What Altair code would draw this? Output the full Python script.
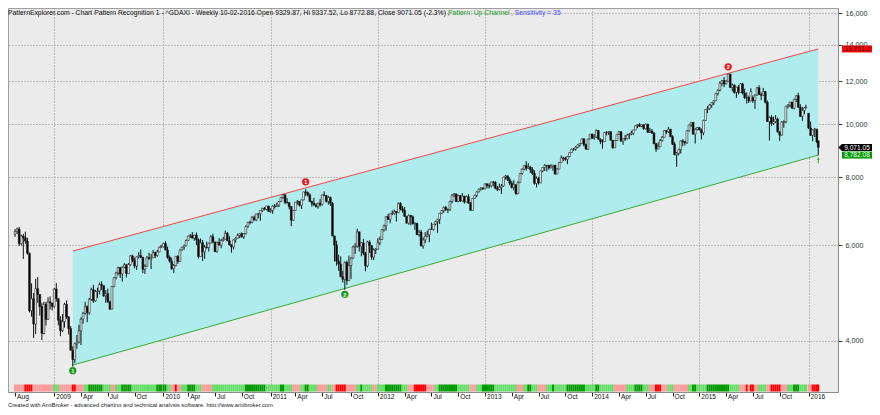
import altair as alt
import pandas as pd

# ---------------- data (weekly DAX bars) ----------------
FIRST_WEEK = "2008-08-22"
DATE_FIX = {"2010-01-01": "2009-12-31", "2016-01-01": "2015-12-30", "2016-02-12": "2016-02-10"}

opens = [
    6280, 6357, 6422, 6036, 6235, 6189, 6104, 5797, 4544, 4781, 4295, 4988, 4869, 4623, 4127, 4669, 4381, 4719, 4696,
    4629, 4984, 4783, 4367, 4179, 4338, 4668, 4427, 4215, 3844, 3695, 3953, 3981, 4176, 4385, 4496, 4624, 4507, 4770, 4970, 4738, 4928, 4941, 5077, 5052, 4839, 4884, 4718, 4576, 5034, 5229, 5332, 5460, 5309, 5462, 5520, 5318, 5523, 5731, 5627, 5491, 5711, 5743, 5695, 5415, 5487, 5684, 5663, 5686, 5817, 5743, 5831, 5946,
    5957, 6037, 5875, 5696, 5608, 5434, 5500, 5722, 5598, 5877, 5945, 5982, 6120, 6235, 6250, 6180, 6259, 6136, 5716, 6056, 5829, 5947, 5938, 6049, 6216, 6071, 5835, 6066, 5999, 6117, 6148, 6303, 6111, 6005, 5951, 6135, 6175, 6249, 6299, 6211, 6294, 6496, 6605, 6601, 6750, 6676, 6842, 6849, 6947, 7006, 6982, 7077,
    6914, 6947, 7076, 7062, 7102, 7216, 7339, 7426, 7185, 7178, 7064, 6664, 6947, 7197, 7217, 7100, 7266, 7514, 7492, 7418, 7219, 7163, 7109, 7070, 7164, 7120, 7419, 7400, 7220, 7344, 7159, 6236, 5998, 5603, 5538, 5247, 5190, 5574, 5164, 5502, 5676, 5950, 5970, 6346, 5966, 6057, 5800, 5493, 6080, 5987, 5702, 5878,
    5898, 6057, 6143, 6404, 6512, 6766, 6692, 6849, 6864, 6922, 6880, 7157, 6996, 6947, 6775, 6583, 6801, 6762, 6561, 6580, 6271, 6339, 5978, 6130, 6229, 6263, 6416, 6410, 6557, 6630, 6690, 6865, 6945, 7041, 6971, 6970, 7214, 7412, 7451, 7216, 7398, 7233, 7380, 7203, 7363, 7163, 6950, 7309, 7405, 7518, 7597, 7636,
    7612, 7776, 7715, 7702, 7833, 7833, 7633, 7593, 7661, 7708, 8004, 8042, 7913, 7795, 7659, 7744, 7459, 7814, 8122, 8278, 8399, 8305, 8349, 8254, 8127, 7789, 7959, 7806, 8212, 8331, 8403, 8410, 8323, 8372, 8416, 8104, 8276, 8510, 8675, 8661, 8623, 8725, 8870, 9001, 9009, 9079, 9168, 9225, 9406, 9172, 9006, 9400,
    9589, 9435, 9473, 9742, 9392, 9306, 9290, 9663, 9657, 9692, 9350, 9056, 9343, 9588, 9695, 9315, 9409, 9401, 9556, 9581, 9630, 9768, 9943, 9987, 9912, 9987, 9816, 10009, 9666, 9720, 9644, 9210, 9010, 9092, 9339, 9470, 9747, 9691, 9799, 9490, 9195, 8788, 8850, 8988, 9326, 9291, 9252, 9732, 9980, 10087, 9594, 9787,
    9865, 9765, 9648, 10167, 10649, 10694, 10846, 10963, 11050, 11402, 11551, 11901, 12040, 11868, 12002, 12375, 11689, 11811, 11454, 11709, 11447, 11865, 11414, 11198, 11197, 11040, 11200, 11058, 11315, 11673, 11347, 11309, 11490, 10985, 10124, 10298, 10038, 10123, 10229, 9688, 9553, 10096, 10104, 10794, 10850, 10988, 10708, 11119, 11293, 10752, 10340, 10608, 10728,
    10480, 9849, 9545, 9765, 9798, 9329.87,
]
highs = [
    6420, 6460, 6480, 6270, 6290, 6350, 6190, 5810, 5100, 4900, 5200, 5240, 4870, 4700, 4720, 4720, 4810, 4830, 4700,
    5000, 5110, 4790, 4440, 4480, 4700, 4750, 4440, 4260, 3910, 3970, 4100, 4280, 4420, 4520, 4720, 4650, 4800, 5010, 5070, 4960, 5010, 5120, 5150, 5060, 4960, 4990, 4740, 5050, 5240, 5360, 5470, 5460, 5480, 5560, 5540, 5560, 5750, 5760, 5690, 5720, 5830, 5890, 5710, 5530, 5730, 5810, 5780, 5880, 5830, 5880, 5960, 6010,
    6060, 6100, 5960, 5740, 5690, 5540, 5730, 5750, 5890, 5960, 6010, 6140, 6240, 6290, 6340, 6270, 6330, 6170, 6170, 6130, 6000, 6090, 6060, 6260, 6300, 6100, 6090, 6180, 6160, 6210, 6380, 6340, 6230, 6020, 6140, 6210, 6300, 6310, 6330, 6310, 6520, 6620, 6650, 6780, 6800, 6850, 6870, 6950, 7030, 7050, 7080, 7090,
    7010, 7100, 7140, 7180, 7230, 7350, 7440, 7430, 7320, 7200, 7070, 6960, 7200, 7260, 7230, 7270, 7520, 7600, 7530, 7470, 7240, 7330, 7160, 7180, 7290, 7430, 7530, 7400, 7390, 7360, 7200, 6240, 6110, 5760, 5720, 5380, 5600, 5620, 5740, 5700, 5990, 6050, 6430, 6350, 6070, 6160, 5830, 6110, 6120, 5990, 5920, 5920,
    6180, 6220, 6420, 6540, 6780, 6850, 6860, 6950, 6970, 6930, 7190, 7190, 7080, 7050, 6790, 6830, 6820, 6800, 6610, 6590, 6390, 6400, 6200, 6340, 6380, 6430, 6600, 6560, 6650, 6700, 6870, 6960, 7060, 7080, 7000, 7240, 7440, 7480, 7460, 7430, 7410, 7480, 7390, 7400, 7440, 7200, 7320, 7420, 7530, 7620, 7670, 7660,
    7790, 7780, 7790, 7840, 7870, 7860, 7710, 7780, 7770, 8010, 8070, 8050, 7990, 7870, 7900, 7760, 7860, 8130, 8300, 8410, 8560, 8490, 8390, 8340, 8230, 8020, 8010, 8220, 8340, 8450, 8420, 8420, 8450, 8420, 8420, 8300, 8530, 8770, 8720, 8720, 8750, 8880, 9020, 9050, 9120, 9180, 9240, 9420, 9410, 9220, 9410, 9600,
    9620, 9600, 9790, 9760, 9420, 9390, 9670, 9720, 9720, 9710, 9350, 9360, 9600, 9720, 9700, 9420, 9560, 9610, 9640, 9740, 9770, 9960, 10010, 10050, 10000, 10000, 10030, 10020, 9850, 9810, 9680, 9250, 9260, 9400, 9520, 9760, 9760, 9890, 9800, 9550, 9290, 8900, 9020, 9340, 9390, 9330, 9750, 9990, 10090, 10090, 9840, 9890,
    9890, 9830, 10200, 10660, 10810, 10900, 10970, 11070, 11410, 11600, 12000, 12070, 12220, 12060, 12390, 12380, 11880, 11840, 11720, 11800, 11900, 11920, 11630, 11450, 11300, 11650, 11300, 11350, 11720, 11800, 11450, 11670, 11520, 11060, 10350, 10400, 10330, 10400, 10290, 9700, 10140, 10170, 10820, 10900, 11000, 10990, 11140, 11310, 11430, 10890, 10760, 10750, 10870,
    10490, 10120, 9790, 9850, 9810, 9337.52,
]
lows = [
    6215, 6290, 5980, 5990, 5660, 6030, 5760, 4510, 4430, 4050, 4120, 4700, 4450, 4014, 4110, 4270, 4370, 4570, 4550,
    4600, 4720, 4270, 4080, 4150, 4230, 4390, 4110, 3840, 3588, 3640, 3870, 3960, 3930, 4300, 4470, 4330, 4470, 4740, 4700, 4720, 4800, 4870, 4960, 4820, 4700, 4700, 4560, 4570, 5020, 5190, 5280, 5220, 5140, 5440, 5230, 5310, 5500, 5580, 5440, 5400, 5670, 5680, 5330, 5310, 5480, 5640, 5420, 5680, 5680, 5710, 5820, 5930,
    5940, 5870, 5660, 5570, 5400, 5330, 5480, 5540, 5590, 5860, 5880, 5970, 6100, 6180, 6170, 6110, 6000, 5670, 5710, 5610, 5660, 5910, 5840, 6040, 6060, 5830, 5810, 5990, 5920, 6090, 6140, 6100, 5990, 5810, 5890, 6060, 6170, 6180, 6190, 6160, 6280, 6460, 6550, 6580, 6650, 6640, 6720, 6650, 6900, 6950, 6950, 6910,
    6880, 6850, 7000, 7060, 7050, 7200, 7300, 7130, 7150, 6980, 6500, 6650, 6940, 7120, 7060, 6990, 7250, 7380, 7370, 7200, 7060, 7090, 7030, 7000, 7060, 7090, 7390, 7180, 7120, 7080, 6230, 5600, 5500, 5380, 5240, 5120, 4966, 5070, 5160, 5200, 5660, 5780, 5930, 5840, 5720, 5750, 5370, 5460, 5800, 5640, 5630, 5780,
    5890, 6000, 6130, 6350, 6380, 6670, 6580, 6810, 6820, 6630, 6870, 6950, 6880, 6760, 6580, 6540, 6520, 6550, 6400, 6260, 6220, 5970, 5910, 6050, 6200, 6070, 6400, 6380, 6520, 6320, 6560, 6840, 6880, 6930, 6870, 6930, 7160, 7350, 7200, 7190, 7200, 7220, 7150, 7190, 7150, 6950, 6950, 7300, 7350, 7500, 7560, 7580,
    7600, 7630, 7620, 7660, 7690, 7600, 7540, 7560, 7450, 7680, 7920, 7870, 7730, 7620, 7560, 7420, 7440, 7810, 8080, 8240, 8220, 8280, 8140, 8070, 7750, 7660, 7750, 7800, 8170, 8210, 8190, 8250, 8300, 8220, 8080, 8100, 8270, 8500, 8560, 8570, 8450, 8700, 8860, 8940, 8950, 9040, 9100, 9220, 9110, 8980, 8970, 9390,
    9400, 9370, 9440, 9380, 9200, 9020, 9280, 9540, 9560, 9340, 9020, 9050, 9330, 9560, 9310, 9170, 9320, 9390, 9390, 9550, 9570, 9760, 9840, 9900, 9880, 9780, 9790, 9650, 9640, 9600, 9200, 8900, 8990, 9090, 9300, 9460, 9600, 9640, 9480, 9160, 8780, 8355, 8770, 8840, 9120, 9150, 9210, 9700, 9900, 9580, 9220, 9750,
    9760, 9380, 9550, 10150, 10490, 10640, 10730, 10850, 11040, 11300, 11500, 11760, 11700, 11840, 11990, 11680, 11500, 11380, 11190, 11360, 11440, 11350, 11130, 10920, 10950, 11030, 10950, 10680, 11300, 11330, 11080, 11300, 10930, 10110, 9338, 9940, 9980, 10060, 9660, 9330, 9540, 9860, 10050, 10700, 10750, 10680, 10650, 11000, 10730, 10320, 10150, 10450, 10700,
    9810, 9520, 9310, 9480, 9240, 8772.88,
]
closes = [
    6357, 6422, 6036, 6235, 6189, 6104, 5797, 4544, 4781, 4295, 4988, 4869, 4623, 4127, 4669, 4381, 4719, 4696, 4629,
    4984, 4783, 4367, 4179, 4338, 4668, 4427, 4215, 3844, 3695, 3953, 3981, 4176, 4385, 4496, 4624, 4507, 4770, 4970, 4738, 4928, 4941, 5077, 5052, 4839, 4884, 4718, 4576, 5034, 5229, 5332, 5460, 5309, 5462, 5520, 5318, 5523, 5731, 5627, 5491, 5711, 5743, 5695, 5415, 5487, 5684, 5663, 5686, 5817, 5743, 5831, 5946, 5957,
    6037, 5875, 5696, 5608, 5434, 5500, 5722, 5598, 5877, 5945, 5982, 6120, 6235, 6250, 6180, 6259, 6136, 5716, 6056, 5829, 5947, 5938, 6049, 6216, 6071, 5835, 6066, 5999, 6117, 6148, 6303, 6111, 6005, 5951, 6135, 6175, 6249, 6299, 6211, 6294, 6496, 6605, 6601, 6750, 6676, 6842, 6849, 6947, 7006, 6982, 7077, 6914,
    6947, 7076, 7062, 7102, 7216, 7339, 7426, 7185, 7178, 7064, 6664, 6947, 7197, 7217, 7100, 7266, 7514, 7492, 7418, 7219, 7163, 7109, 7070, 7164, 7120, 7419, 7400, 7220, 7344, 7159, 6236, 5998, 5603, 5538, 5247, 5190, 5574, 5164, 5502, 5676, 5950, 5970, 6346, 5966, 6057, 5800, 5493, 6080, 5987, 5702, 5878, 5898,
    6057, 6143, 6404, 6512, 6766, 6692, 6849, 6864, 6922, 6880, 7157, 6996, 6947, 6775, 6583, 6801, 6762, 6561, 6580, 6271, 6339, 5978, 6130, 6229, 6263, 6416, 6410, 6557, 6630, 6690, 6865, 6945, 7041, 6971, 6970, 7214, 7412, 7451, 7216, 7398, 7233, 7380, 7203, 7363, 7163, 6950, 7309, 7405, 7518, 7597, 7636, 7612,
    7776, 7715, 7702, 7833, 7833, 7633, 7593, 7661, 7708, 8004, 8042, 7913, 7795, 7659, 7744, 7459, 7814, 8122, 8278, 8399, 8305, 8349, 8254, 8127, 7789, 7959, 7806, 8212, 8331, 8403, 8410, 8323, 8372, 8416, 8104, 8276, 8510, 8675, 8661, 8623, 8725, 8870, 9001, 9009, 9079, 9168, 9225, 9406, 9172, 9006, 9400, 9589,
    9435, 9473, 9742, 9392, 9306, 9290, 9663, 9657, 9692, 9350, 9056, 9343, 9588, 9695, 9315, 9409, 9401, 9556, 9581, 9630, 9768, 9943, 9987, 9912, 9987, 9816, 10009, 9666, 9720, 9644, 9210, 9010, 9092, 9339, 9470, 9747, 9691, 9799, 9490, 9195, 8788, 8850, 8988, 9326, 9291, 9252, 9732, 9980, 10087, 9594, 9787, 9865,
    9765, 9648, 10167, 10649, 10694, 10846, 10963, 11050, 11402, 11551, 11901, 12040, 11868, 12002, 12375, 11689, 11811, 11454, 11709, 11447, 11865, 11414, 11198, 11197, 11040, 11492, 11058, 11315, 11673, 11347, 11309, 11490, 10985, 10124, 10298, 10038, 10123, 10229, 9688, 9553, 10096, 10104, 10794, 10850, 10988, 10708, 11119, 11293, 10752, 10340, 10608, 10728, 10743,
    9849, 9545, 9765, 9798, 9286, 9071.05,
]

# colour strip at the bottom: run codes and run lengths (in bars)
strip_codes = ["P", "R", "P", "LG", "P", "R", "P", "LG", "DG", "LG",
               "P", "LG", "DG", "LG", "DG", "LG", "P", "R", "P", "LG",
               "DG", "LG", "P", "LG", "DG", "LG", "DG", "LG", "P", "LG",
               "DG", "LG", "P", "LG", "P", "R", "P", "LG", "DG", "LG",
               "P", "LG", "DG", "LG", "P", "R", "P", "LG", "DG", "LG",
               "P", "LG", "DG", "LG", "P", "LG", "DG", "LG", "P", "LG",
               "DG", "LG", "DG", "LG", "DG", "LG", "P", "LG", "DG", "LG",
               "P", "R", "P", "LG", "P", "LG", "DG", "LG", "DG", "LG",
               "P", "R", "P", "R", "P", "LG", "P", "R", "P", "LG",
               "DG", "LG", "P", "R"]
strip_runs = [5, 4, 10, 3, 6, 2, 4, 2, 7, 4,
              2, 3, 5, 12, 5, 2, 2, 1, 2, 3,
              4, 3, 5, 16, 10, 7, 2, 4, 4, 2,
              2, 4, 5, 2, 2, 5, 5, 2, 1, 5,
              2, 4, 8, 3, 3, 6, 4, 2, 9, 6,
              3, 3, 6, 11, 3, 2, 2, 3, 4, 3,
              1, 6, 9, 5, 2, 7, 6, 4, 4, 3,
              3, 3, 3, 3, 7, 2, 2, 5, 11, 5,
              3, 1, 1, 2, 2, 4, 2, 5, 3, 3,
              3, 4, 2, 4]
strip_palette = {"R": "#ff0000", "P": "#ff9a9a", "LG": "#66dd66", "DG": "#009a00"}

# channel (log-straight lines between the first pivot and the last bar)
channel_idx = [28, 390]
channel_upper = [5850, 13761.2]
channel_lower = [3610, 8782.08]

# pivot markers
marker_idx = [28, 141, 160, 346]
marker_val = [3526, 7843, 4871, 12760]
marker_txt = ["1", "1", "2", "2"]
marker_col = ["#169b16", "#e8141e", "#169b16", "#e8141e"]

arrow_idx = [390]
arrow_val = [8591]

price_ticks = [4000, 6000, 8000, 10000, 12000, 14000, 16000]

box_vals = [13761.2, 9071.05, 8782.08]
box_text = ["13,761.2", "9,071.05", "8,782.08"]
box_fill = ["#ff0000", "#000000", "#009a00"]
box_font = ["#222222", "#ffffff", "#ffffff"]
box_pointer = [False, True, False]

header_black = ("PatternExplorer.com - Chart Pattern Recognition 1  - ^GDAXI - Weekly 10-02-2016 "
                "Open 9329.87, Hi 9337.52, Lo 8772.88, Close 9071.05 (-2.3%) , ")
header_green = "Pattern: Up Channel"
header_blue = ", Sensitivity = 35"
footer = "Created with AmiBroker - advanced charting and technical analysis software. http://www.amibroker.com"

# ---------------- tables ----------------
raw = pd.date_range(FIRST_WEEK, periods=len(closes), freq="7D")
dates = [pd.Timestamp(DATE_FIX.get(d.strftime("%Y-%m-%d"), d.strftime("%Y-%m-%d"))) for d in raw]

bars = pd.DataFrame({"date": dates, "open": opens, "high": highs, "low": lows, "close": closes})

bar_colors = []
for code, n in zip(strip_codes, strip_runs):
    bar_colors += [strip_palette[code]] * n
half = pd.Timedelta(hours=84)
strip = pd.DataFrame({"x0": [d - half for d in dates], "x1": [d + half for d in dates], "col": bar_colors})

# axis ticks: first bar, then first bar of each Jan/Apr/Jul/Oct from 2009 on
tick_dates = [dates[0]]
for i in range(1, len(dates)):
    if dates[i].year >= 2009 and dates[i].month != dates[i - 1].month and dates[i].month in (1, 4, 7, 10):
        tick_dates.append(dates[i])
tick_dt = [alt.DateTime(year=d.year, month=d.month, date=d.day) for d in tick_dates]

chan = pd.DataFrame({"date": [dates[i] for i in channel_idx], "up": channel_upper, "lo": channel_lower})
marks = pd.DataFrame({"date": [dates[i] for i in marker_idx], "v": marker_val, "t": marker_txt, "c": marker_col})
arrow = pd.DataFrame({"date": [dates[i] for i in arrow_idx], "v": arrow_val})

# ---------------- scales / axes ----------------
W, H = 830, 384
x_scale = alt.Scale(domain=[alt.DateTime(year=2008, month=8, date=15), alt.DateTime(year=2016, month=3, date=31)])
y_scale = alt.Scale(type="log", domain=[3222, 16364], nice=False)

x_axis = alt.Axis(values=tick_dt, title="",
                  grid=True, gridDash=[1, 2], gridColor="#8a8a8a",
                  gridOpacity=alt.condition("month(datum.value) == 0", alt.value(1), alt.value(0)),
                  labelExpr="month(datum.value) == 0 ? timeFormat(datum.value, '%Y') : timeFormat(datum.value, '%b')",
                  labelAlign="left", labelBaseline="top", labelPadding=-3, labelOffset=1.5,
                  labelFontSize=6.6, labelColor="#111111", labelFlush=False, labelOverlap=False,
                  tickSize=4, tickColor="#222222", domainColor="#8c8c8c")
y_axis = alt.Axis(orient="right", values=price_ticks, format=",.0f", title="",
                  grid=True, gridDash=[1, 2], gridColor="#8a8a8a",
                  tickSize=4, tickColor="#444444", domainColor="#8c8c8c",
                  labelFontSize=7.2, labelColor="#333333", labelPadding=3)


def X(field):
    return alt.X(field, type="temporal", scale=x_scale, axis=x_axis)


def Y(field):
    return alt.Y(field, type="quantitative", scale=y_scale, axis=y_axis)


layers = []

layers.append(alt.Chart(chan).mark_area(color="#afeced", opacity=1).encode(
    x=X("date"), y=Y("up"), y2=alt.Y2("lo")))
layers.append(alt.Chart(chan).mark_line(color="#f04848", strokeWidth=1).encode(x=X("date"), y=Y("up")))
layers.append(alt.Chart(chan).mark_line(color="#3aaa3a", strokeWidth=1).encode(x=X("date"), y=Y("lo")))

layers.append(alt.Chart(bars).mark_rule(color="#111111", strokeWidth=1).encode(
    x=X("date"), y=Y("low"), y2=alt.Y2("high")))
layers.append(alt.Chart(bars).mark_bar(width=1.8, strokeWidth=0.6, stroke="#222222").encode(
    x=X("date"), y=Y("open"), y2=alt.Y2("close"),
    fill=alt.condition("datum.close >= datum.open", alt.value("#ffffff"), alt.value("#000000"))))

layers.append(alt.Chart(marks).mark_circle(size=52, opacity=1).encode(
    x=X("date"), y=Y("v"), color=alt.Color("c:N", scale=None)))
layers.append(alt.Chart(marks).mark_text(color="white", fontSize=5.5, fontWeight="bold", baseline="middle", dy=0.3).encode(
    x=X("date"), y=Y("v"), text="t:N"))
layers.append(alt.Chart(arrow).mark_point(shape="arrow", filled=True, size=45, color="#22aa22", opacity=1).encode(
    x=X("date"), y=Y("v")))

layers.append(alt.Chart(strip).mark_rect().encode(
    x=X("x0"), x2=alt.X2("x1"), y=alt.value(H - 7.5), y2=alt.value(H - 0.5),
    fill=alt.Fill("col:N", scale=None)))

rect_path = "M-1,-0.233L1,-0.233L1,0.233L-1,0.233Z"
ptr_path = "M-1.25,0L-1,-0.233L1,-0.233L1,0.233L-1,0.233Z"
for v, t, f, fc, p in zip(box_vals, box_text, box_fill, box_font, box_pointer):
    d = pd.DataFrame({"v": [v], "t": [t]})
    layers.append(alt.Chart(d).mark_point(shape=ptr_path if p else rect_path, filled=True, size=900,
                                          color=f, opacity=1).encode(x=alt.value(W + 19), y=Y("v")))
    layers.append(alt.Chart(d).mark_text(color=fc, fontSize=6.6, align="center", baseline="middle", dy=0.3).encode(
        x=alt.value(W + 19), y=Y("v"), text="t:N"))

layers.append(alt.Chart(pd.DataFrame({"t": [header_black]})).mark_text(
    align="left", baseline="alphabetic", fontSize=6.8, color="#111111").encode(
    x=alt.value(0), y=alt.value(6.5), text="t:N"))
layers.append(alt.Chart(pd.DataFrame({"t": [header_green]})).mark_text(
    align="left", baseline="alphabetic", fontSize=6.8, color="#22a022").encode(
    x=alt.value(440), y=alt.value(6.5), text="t:N"))
layers.append(alt.Chart(pd.DataFrame({"t": [header_blue]})).mark_text(
    align="left", baseline="alphabetic", fontSize=6.8, color="#4a4aff").encode(
    x=alt.value(503), y=alt.value(6.5), text="t:N"))
layers.append(alt.Chart(pd.DataFrame({"t": [footer]})).mark_text(
    align="left", baseline="alphabetic", fontSize=5.8, color="#222222").encode(
    x=alt.value(0), y=alt.value(H + 14.5), text="t:N"))

chart = alt.layer(*layers).properties(
    width=W, height=H,
    autosize=alt.AutoSizeParams(type="none"),
    padding={"left": 0, "top": 0, "right": 34, "bottom": 15},
).configure(background="white", font="Liberation Sans").configure_view(fill="#ebebeb", stroke="#a0a0a0")

chart.save("out.html", embed_options={"renderer": "svg", "actions": False})
